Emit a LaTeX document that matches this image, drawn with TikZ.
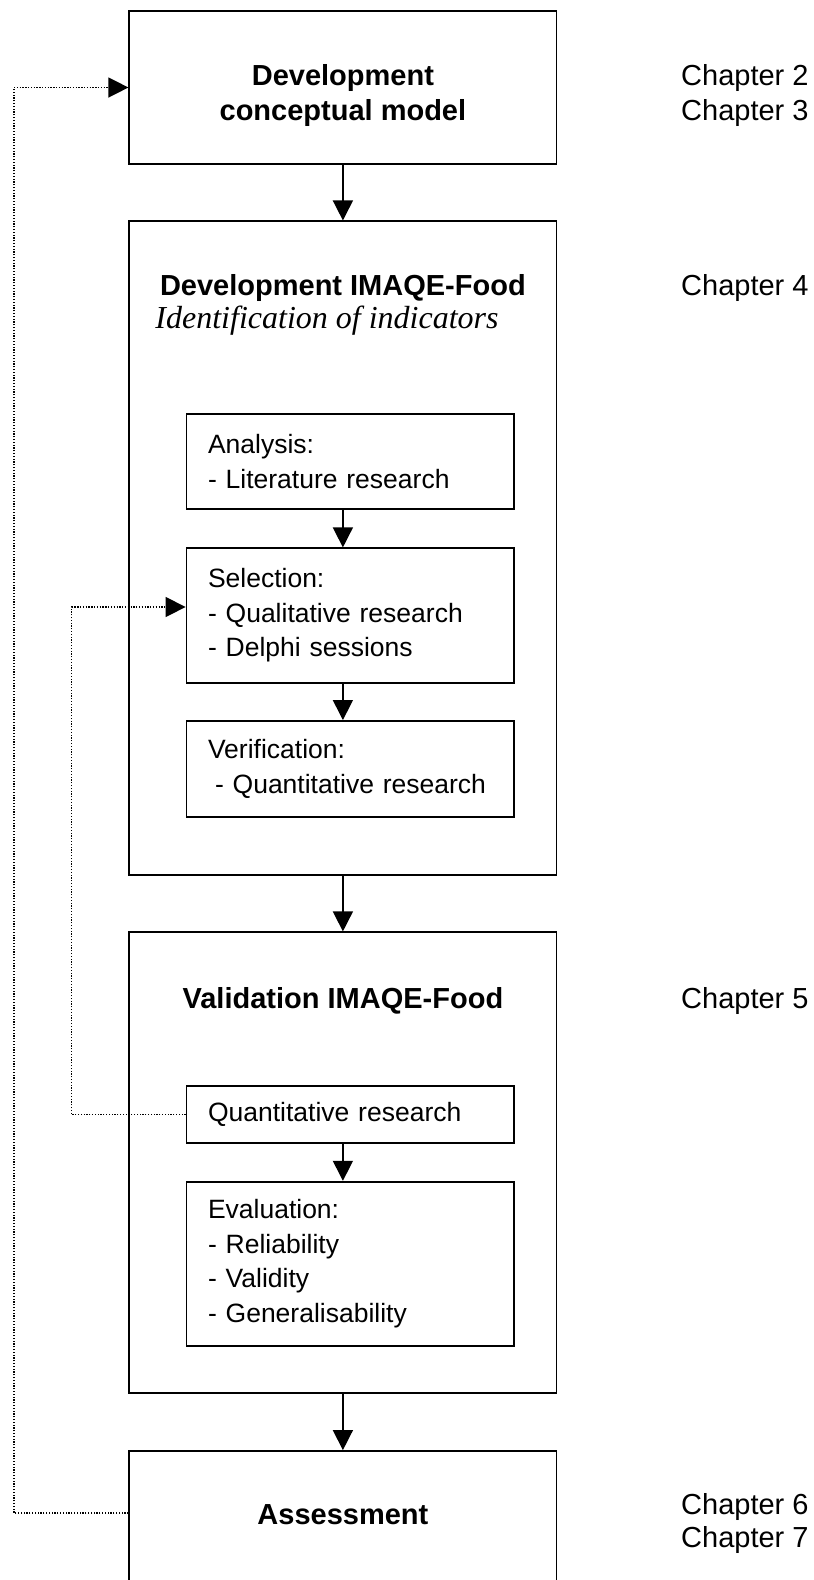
\documentclass[tikz,border=0pt]{standalone}
\usepackage{fontspec}
\setmainfont{Liberation Sans}
\newfontfamily\serifit{Liberation Serif}
\usetikzlibrary{arrows.meta}
\begin{document}
\begin{tikzpicture}[x=1pt,y=-1pt,
  box/.style={draw,line width=1.8pt,minimum width=427.2pt,inner sep=0pt},
  sub/.style={draw,line width=1.8pt,minimum width=327.5pt,text width=284.5pt,inner xsep=21.5pt,inner ysep=0pt,align=left,font=\fontsize{26.5}{34.5}\selectfont},
  ttl/.style={font=\bfseries\fontsize{29}{35}\selectfont,anchor=base,inner sep=0pt},
  sttl/.style={font=\serifit\itshape\fontsize{32}{36}\selectfont,anchor=base,inner sep=0pt},
  chap/.style={font=\fontsize{29}{33}\selectfont,anchor=base west,inner sep=0pt},
  flow/.style={line width=1.5pt,-{Triangle[length=20pt,width=20pt]}},
  back/.style={line width=1.4pt,dash pattern=on 1.3pt off 1.5pt},
  backarrow/.style={back,-{Triangle[length=20pt,width=20pt]}}
]
\fill[white] (0,0) rectangle (814,1580);
\useasboundingbox (0,0) rectangle (814,1580);

% outer boxes
\node[box,minimum height=153.6pt] (b1) at (342.9,87.5) {};
\node[box,minimum height=653.7pt] (b2) at (342.9,548.2) {};
\node[box,minimum height=461pt] (b3) at (342.9,1162.8) {};
\node[box,minimum height=140pt] (b4) at (342.9,1521) {};

% titles
\node[ttl] (t1a) at (342.9,85) {Development};
\node[ttl] (t1b) at (342.9,120) {conceptual model};
\node[ttl] (t2) at (342.9,295) {Development IMAQE-Food};
\node[sttl] (t2i) at (327,328) {Identification of indicators};
\node[ttl] (t3) at (342.9,1008) {Validation IMAQE-Food};
\node[ttl] (t4) at (342.9,1524) {Assessment};

% inner boxes
\node[sub,minimum height=95.3pt] (ana) at (350.25,461.7) {Analysis:\\- Literature research};
\node[sub,minimum height=134.4pt] (sel) at (350.25,615.5) {Selection:\\- Qualitative research\\- Delphi sessions};
\node[sub,minimum height=95.7pt] (ver) at (350.25,768.8) {Verification:\\\hspace*{7pt}- Quantitative research};
\node[sub,minimum height=57.3pt] (qr) at (350.25,1114.7) {Quantitative research};
\node[sub,minimum height=164pt] (ev) at (350.25,1263.7) {Evaluation:\\- Reliability\\- Validity\\- Generalisability};

% chapter labels
\node[chap] (c2) at (681,85) {Chapter 2};
\node[chap] (c3) at (681,120) {Chapter 3};
\node[chap] (c4) at (681,295) {Chapter 4};
\node[chap] (c5) at (681,1008) {Chapter 5};
\node[chap] (c6) at (681,1514) {Chapter 6};
\node[chap] (c7) at (681,1547) {Chapter 7};

% main flow
\draw[flow] (b1.south) -- (b2.north);
\draw[flow] (ana.south -| b2.north) -- (sel.north -| b2.north);
\draw[flow] (sel.south -| b2.north) -- (ver.north -| b2.north);
\draw[flow] (b2.south) -- (b3.north);
\draw[flow] (qr.south -| b3.north) -- (ev.north -| b3.north);
\draw[flow] (b3.south) -- (b4.north);

% feedback loops
\coordinate (lo) at (14,1513);
\coordinate (li) at (71.7,607);
\draw[backarrow] (b4.west |- lo) -- (lo) -- (lo |- b1.west) -- (b1.west);
\draw[backarrow] (qr.west) -- (qr.west -| li) -- (li) -- (sel.west |- li);
\end{tikzpicture}
\end{document}
